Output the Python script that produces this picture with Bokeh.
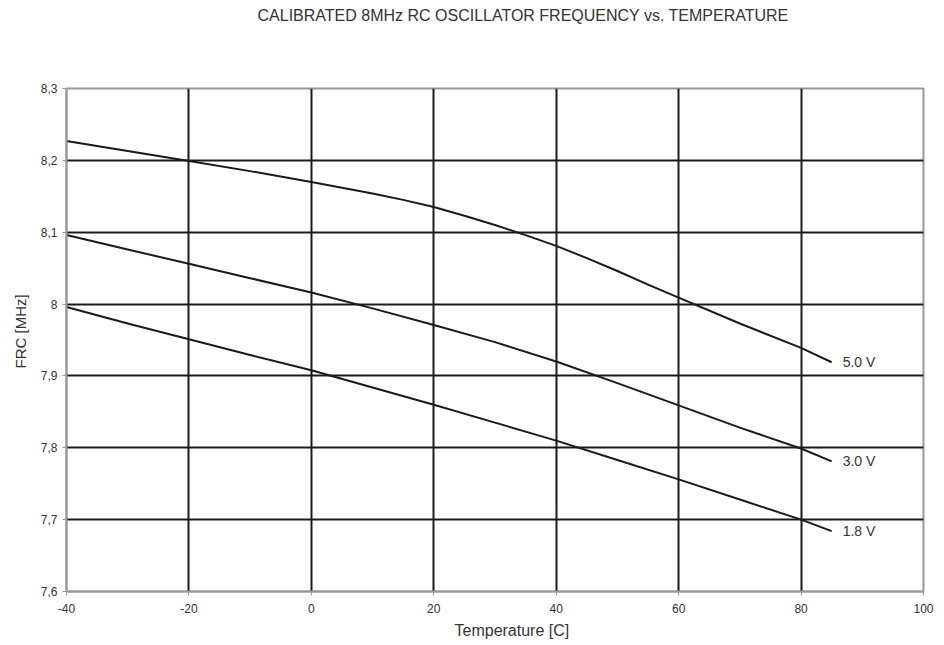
from bokeh.plotting import figure
from bokeh.models import Label, FixedTicker, Range1d, Title
from bokeh.embed import file_html
from bokeh.resources import INLINE

temps_5v0 = [-40, -30, -20, -10, 0, 5, 10, 15, 20, 25, 30, 35, 40, 45, 50, 55, 60, 70, 80, 85]
frc_5v0 = [8.227, 8.213, 8.199, 8.185, 8.170, 8.162, 8.154, 8.145, 8.135, 8.123, 8.110, 8.096,
           8.081, 8.064, 8.046, 8.027, 8.009, 7.973, 7.939, 7.919]
temps = [-40, -30, -20, -10, 0, 10, 20, 30, 40, 50, 60, 70, 80, 85]
frc_3v0 = [8.096, 8.076, 8.056, 8.036, 8.016, 7.994, 7.971, 7.947, 7.920, 7.890, 7.859, 7.828, 7.799, 7.781]
frc_1v8 = [7.996, 7.973, 7.951, 7.929, 7.908, 7.884, 7.860, 7.835, 7.810, 7.783, 7.756, 7.728, 7.700, 7.684]
series_names = ["5.0 V", "3.0 V", "1.8 V"]

x_ticks = [-40, -20, 0, 20, 40, 60, 80, 100]
x_tick_labels = ["-40", "-20", "0", "20", "40", "60", "80", "100"]
y_ticks = [7.6, 7.7, 7.8, 7.9, 8.0, 8.1, 8.2, 8.3]
y_tick_labels = ["7,6", "7,7", "7,8", "7,9", "8", "8,1", "8,2", "8,3"]

title_text = "CALIBRATED 8MHz RC OSCILLATOR FREQUENCY vs. TEMPERATURE"
x_title = "Temperature [C]"
y_title = "FRC [MHz]"

FONT = "Liberation Sans"
TXT = "#333333"

p = figure(width=944, height=645, output_backend="svg", toolbar_location=None,
           x_range=Range1d(-40, 100), y_range=Range1d(7.6, 8.3),
           min_border_left=66, min_border_right=21, min_border_top=88, min_border_bottom=54)

p.outline_line_color = "#999999"
p.outline_line_width = 2

for ax in (p.xaxis[0], p.yaxis[0]):
    ax.axis_line_color = "#999999"
    ax.axis_line_width = 2
    ax.major_tick_line_color = "#999999"
    ax.major_tick_out = 4
    ax.major_tick_in = 0
    ax.minor_tick_line_color = None
    ax.major_label_text_font = FONT
    ax.major_label_text_font_size = "12px"
    ax.major_label_text_color = TXT

p.xaxis.ticker = FixedTicker(ticks=x_ticks)
p.yaxis.ticker = FixedTicker(ticks=y_ticks)
p.xaxis.major_label_overrides = {t: l for t, l in zip(x_ticks, x_tick_labels)}
p.yaxis.major_label_overrides = {t: l for t, l in zip(y_ticks, y_tick_labels)}
p.xaxis.major_label_standoff = 8
p.yaxis.major_label_standoff = 5

p.grid.grid_line_color = "#1a1a1a"
p.grid.grid_line_width = 2
p.grid.grid_line_alpha = 1.0

series = [(temps_5v0, frc_5v0), (temps, frc_3v0), (temps, frc_1v8)]
for (xs, vals), name in zip(series, series_names):
    p.line(xs, vals, line_color="#1a1a1a", line_width=2, line_join="round")
    p.add_layout(Label(x=xs[-1], y=vals[-1], text=name, x_offset=11,
                       text_font=FONT, text_font_size="14px", text_color=TXT,
                       text_baseline="middle", text_align="left"))

# top: spacer nearest the frame, then the title
p.add_layout(Title(text=" ", text_font=FONT, text_font_size="16px", standoff=42), "above")
p.add_layout(Title(text=title_text, align="left", offset=191, standoff=8,
                   text_font=FONT, text_font_size="16px", text_font_style="normal",
                   text_color=TXT), "above")
# bottom axis title
p.add_layout(Title(text=x_title, align="left", offset=388, standoff=8,
                   text_font=FONT, text_font_size="16px", text_font_style="normal",
                   text_color=TXT), "below")
# left axis title
p.add_layout(Title(text=y_title, align="left", offset=223, standoff=18,
                   text_font=FONT, text_font_size="15px", text_font_style="normal",
                   text_color=TXT), "left")

open("out.html", "w").write(file_html(p, INLINE))
